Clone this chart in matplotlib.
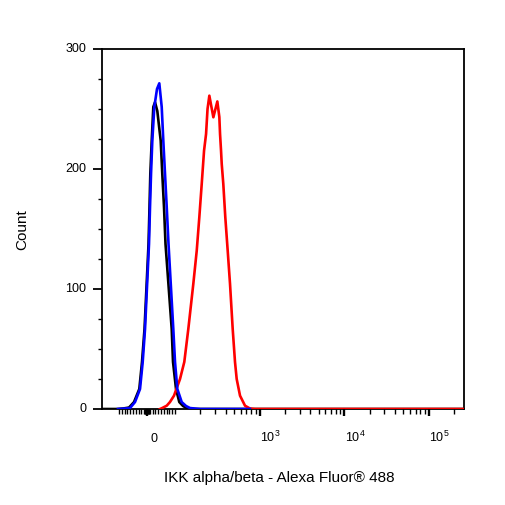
import numpy as np
import matplotlib
matplotlib.use('Agg')
import matplotlib.pyplot as plt
import matplotlib.transforms as mtransforms
from matplotlib.ticker import FixedLocator, FixedFormatter, NullFormatter

plt.rcParams['font.family'] = ['Liberation Sans', 'DejaVu Sans']
plt.rcParams['mathtext.fontset'] = 'custom'
plt.rcParams['mathtext.rm'] = 'Liberation Sans'
plt.rcParams['mathtext.default'] = 'regular'

# ---- data (fluorescence intensity, count) ----
black_x = [-159, -105, -85.7, -64.3, -46.4, -27.5, -17.9, -8.9, 5.4, 8.9, 11.8, 16.8,
           22.5, 28.6, 36.8, 48.9, 54.6, 60.7, 66.1, 88.2, 92.9, 102.8, 112.4, 124.4,
           137.6, 172, 262144]
black_y = [0, 0, 0.4, 1.2, 5.8, 16.7, 39.2, 66.7, 137.5, 168.3, 195.8, 223.6,
           251.7, 255.6, 248.3, 223.6, 195.8, 168.3, 137.5, 66.7, 39.2, 16.7, 5.8, 2.5,
           0.8, 0, 0]

blue_x = [-103, -78.6, -60.7, -42.9, -25, -15.4, -7.1, 7.1, 10.7, 14.3, 18.9, 26.1,
          35.7, 43.9, 52.5, 58.2, 64.3, 70.4, 76.8, 93.9, 100, 106.5, 120, 135, 150.5,
          198, 770]
blue_y = [0, 0.4, 0.8, 5.8, 16.7, 39.2, 66.7, 137.5, 168.3, 195.8, 223.6, 251.7,
          266.7, 271.4, 251.7, 223.6, 195.8, 168.3, 137.5, 66.7, 39.2, 16.7, 5.8, 2.5, 0.8,
          0, 0]

red_x = [46.4, 52.5, 70.4, 82, 96.4, 114.6, 128.8, 143.7, 164.6, 180.7, 194, 207,
         220.6, 233, 242.5, 254.8, 284.2, 316.8, 334.5, 341, 350.3, 357, 372.7, 393.3,
         420, 447.5, 481.3, 512.5, 536.6, 587.6, 673, 770, 883, 262144]
red_y = [0, 0.6, 2.75, 5.8, 11.1, 25, 39.2, 66.7, 104.2, 131.9, 160, 187.5,
         215.3, 229.2, 250, 261.1, 243.1, 256.3, 243.3, 229.2, 215.3, 204.2, 187.5, 160,
         131.9, 104.2, 66.7, 39.2, 25, 11.1, 2.75, 0.4, 0, 0]

x_major = [0, 1e3, 1e4, 1e5]
x_major_labels = ['0', '$10^{3}$', '$10^{4}$', '$10^{5}$']
y_major = [0, 100, 200, 300]
y_minor = [25, 50, 75, 125, 150, 175, 225, 250, 275]

x_minor = ([-v for v in range(10, 101, 10)] + [-8, -6, -4, -2, 2, 4, 6, 8]
           + list(range(10, 101, 10)) + list(range(200, 1000, 100))
           + list(range(2000, 10000, 1000)) + list(range(20000, 100000, 10000))
           + [200000])

xlabel = 'IKK alpha/beta - Alexa Fluor® 488'
ylabel = 'Count'

# ---- figure ----
fig = plt.figure(figsize=(5.06, 5.06), dpi=100)
ax = fig.add_axes([102/506, 1 - 410/506, 362/506, 360/506])
ax.set_xscale('symlog', linthresh=100, linscale=0.298, base=10)

ax.plot(black_x, black_y, color='black', lw=1.9, zorder=3)
ax.plot(red_x, red_y, color='#ff0000', lw=1.9, zorder=4)
ax.plot(blue_x, blue_y, color='#0000ff', lw=1.9, zorder=5)

ax.set_xlim(-159, 262144)
ax.set_ylim(0, 300)

ax.xaxis.set_major_locator(FixedLocator(x_major))
ax.xaxis.set_major_formatter(FixedFormatter(x_major_labels))
ax.xaxis.set_minor_locator(FixedLocator(x_minor))
ax.xaxis.set_minor_formatter(NullFormatter())
ax.yaxis.set_major_locator(FixedLocator(y_major))
ax.yaxis.set_minor_locator(FixedLocator(y_minor))
ax.yaxis.set_minor_formatter(NullFormatter())

for s in ax.spines.values():
    s.set_linewidth(1.3)
    s.set_color('black')

ax.tick_params(axis='x', which='major', direction='out', length=5, width=1.7,
               labelsize=9, pad=18)
ax.tick_params(axis='x', which='minor', direction='out', length=3.4, width=1.0)
ax.tick_params(axis='y', which='major', direction='out', length=6.5, width=1.3,
               labelsize=9, pad=5)
ax.tick_params(axis='y', which='minor', direction='out', length=3, width=1.0)

fig.canvas.draw()
shifts = [7, 11, 11, 11]
for lab, dx in zip(ax.xaxis.get_majorticklabels(), shifts):
    lab.set_verticalalignment('baseline')
    lab.set_transform(lab.get_transform() +
                      mtransforms.ScaledTranslation(dx / 100, 0, fig.dpi_scale_trans))
for lab in ax.yaxis.get_majorticklabels():
    lab.set_transform(lab.get_transform() +
                      mtransforms.ScaledTranslation(0, 2 / 100, fig.dpi_scale_trans))

ax.set_xlabel(xlabel, fontsize=11)
ax.xaxis.set_label_coords((279 - 102) / 362, (410 - 478) / 360)
ax.xaxis.label.set_verticalalignment('center')
ax.set_ylabel(ylabel, fontsize=11)
ax.yaxis.set_label_coords((22 - 102) / 362, 0.5)
ax.yaxis.label.set_verticalalignment('center')

fig.savefig('out.png', dpi=100)
